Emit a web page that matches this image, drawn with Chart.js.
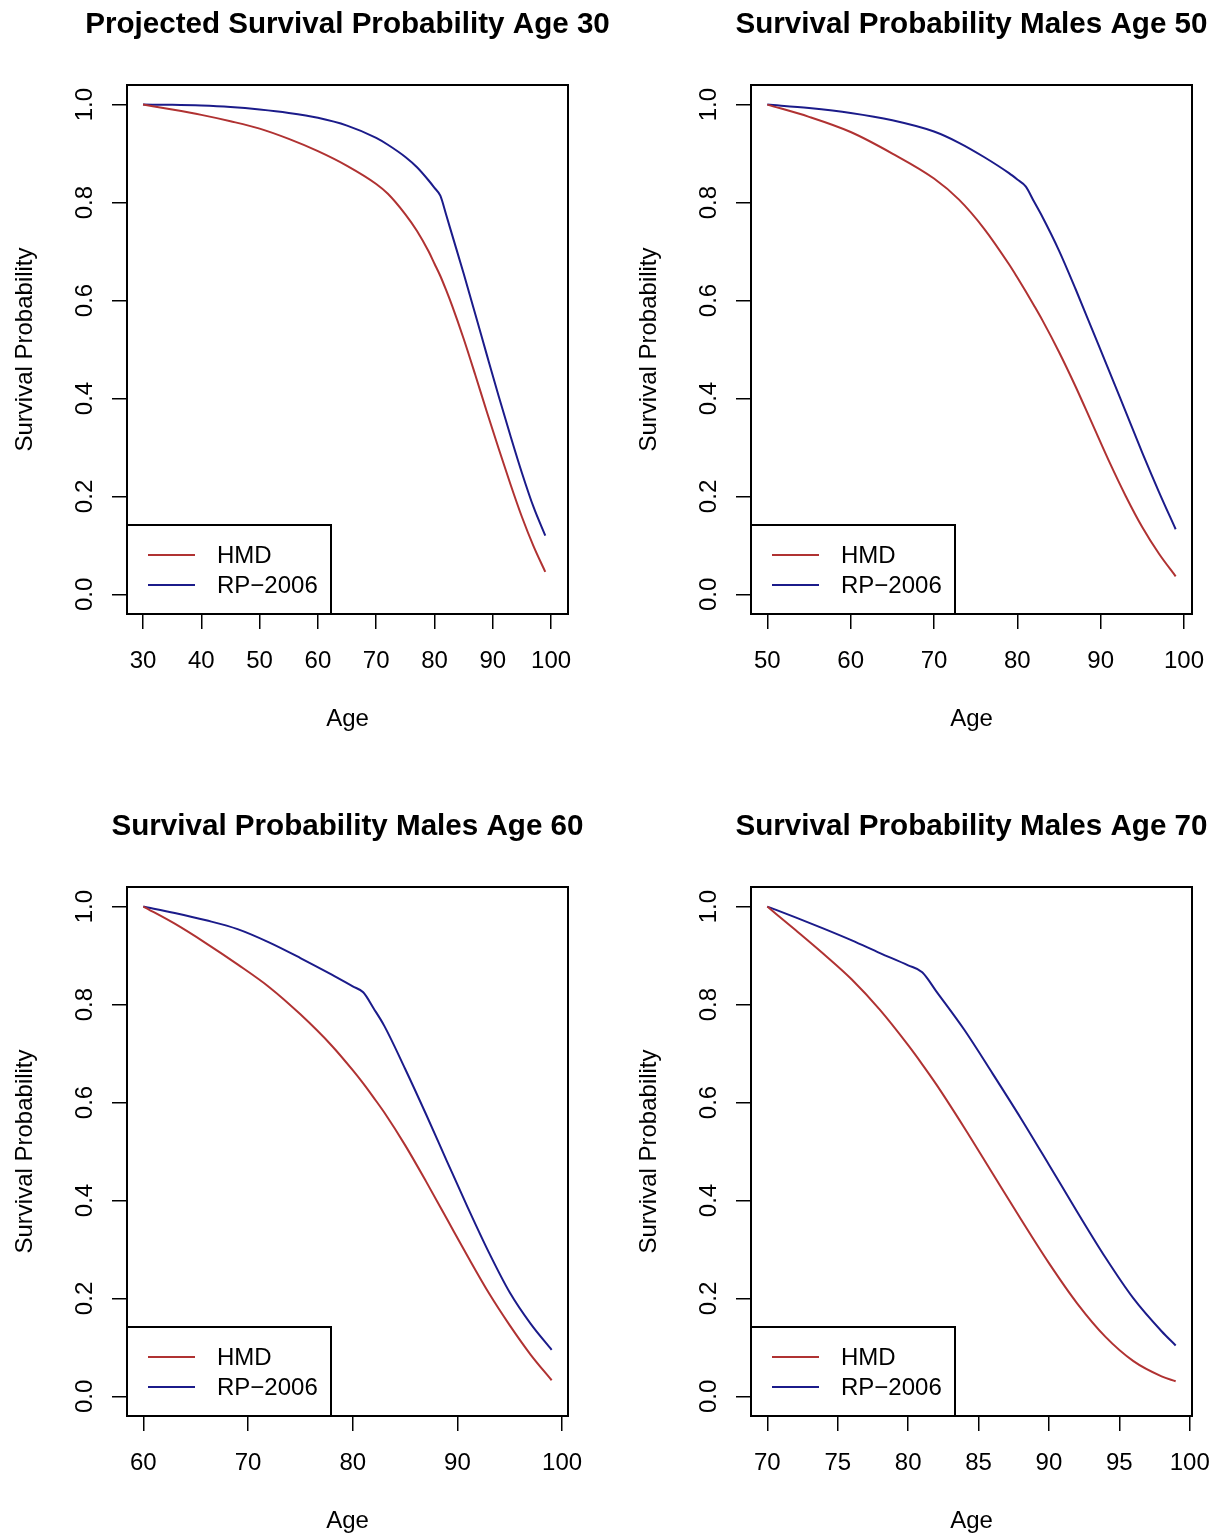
<!DOCTYPE html>
<html lang="en">
  <head>
    <meta charset="UTF-8" />
    <title>Survival Probability</title>
    <script src="https://cdn.jsdelivr.net/npm/chart.js"></script>
    <style>
      body { margin: 0; background: #fff; overflow: hidden; }
      .panel { position: absolute; }
    </style>
  </head>
  <body>
    <div class="panel" style="left: 0px; top: 0px; width: 624px; height: 735px"><canvas id="c30"></canvas></div>
    <div class="panel" style="left: 624px; top: 0px; width: 588px; height: 735px"><canvas id="c50"></canvas></div>
    <div class="panel" style="left: 0px; top: 802px; width: 624px; height: 735px"><canvas id="c60"></canvas></div>
    <div class="panel" style="left: 624px; top: 802px; width: 588px; height: 735px"><canvas id="c70"></canvas></div>
  </body>
  <script>
    // values
    const seriesNames = ["HMD", "RP\u22122006"];
    const yTicks = [0, 0.2, 0.4, 0.6, 0.8, 1.0];

    const ages30 = [30, 35, 40, 45, 50, 55, 60, 65, 70, 72, 75, 77, 79, 80, 81, 82, 83, 85, 87, 89, 91, 93, 95, 97, 99];
    const hmd30 = [1.0, 0.99, 0.979, 0.966, 0.951, 0.93, 0.905, 0.875, 0.838, 0.818, 0.776, 0.742, 0.7, 0.675, 0.65, 0.621, 0.59, 0.522, 0.448, 0.372, 0.298, 0.226, 0.158, 0.098, 0.046];
    const rp30 = [1.0, 0.9995, 0.998, 0.995, 0.99, 0.983, 0.973, 0.957, 0.932, 0.918, 0.893, 0.872, 0.845, 0.83, 0.814, 0.775, 0.735, 0.655, 0.572, 0.488, 0.405, 0.325, 0.248, 0.178, 0.12];
    const xTicks30 = [30, 40, 50, 60, 70, 80, 90, 100];

    const ages50 = [50, 55, 60, 65, 70, 73, 76, 79, 80, 81, 82, 83, 85, 87, 89, 91, 93, 95, 97, 99];
    const hmd50 = [1.0, 0.975, 0.944, 0.9, 0.849, 0.806, 0.747, 0.674, 0.647, 0.619, 0.59, 0.56, 0.495, 0.424, 0.348, 0.272, 0.201, 0.137, 0.083, 0.037];
    const rp50 = [1.0, 0.993, 0.983, 0.968, 0.945, 0.922, 0.893, 0.86, 0.847, 0.833, 0.802, 0.771, 0.702, 0.623, 0.54, 0.457, 0.373, 0.289, 0.209, 0.133];
    const xTicks50 = [50, 60, 70, 80, 90, 100];

    const ages60 = [60, 63, 66, 69, 72, 75, 78, 80, 81, 82, 83, 85, 87, 89, 91, 93, 95, 97, 99];
    const hmd60 = [1.0, 0.965, 0.925, 0.882, 0.836, 0.78, 0.716, 0.666, 0.639, 0.61, 0.58, 0.513, 0.439, 0.362, 0.285, 0.211, 0.145, 0.085, 0.033];
    const rp60 = [1.0, 0.987, 0.972, 0.954, 0.927, 0.895, 0.861, 0.837, 0.825, 0.792, 0.757, 0.669, 0.576, 0.48, 0.385, 0.294, 0.212, 0.148, 0.095];
    const xTicks60 = [60, 70, 80, 90, 100];

    const ages70 = [70, 72, 74, 76, 78, 80, 81, 82, 84, 86, 88, 90, 92, 94, 96, 98, 99];
    const hmd70 = [1.0, 0.952, 0.903, 0.851, 0.789, 0.717, 0.678, 0.637, 0.548, 0.455, 0.362, 0.272, 0.19, 0.122, 0.072, 0.041, 0.031];
    const rp70 = [1.0, 0.978, 0.955, 0.931, 0.905, 0.88, 0.866, 0.827, 0.748, 0.659, 0.568, 0.473, 0.377, 0.284, 0.2, 0.133, 0.104];
    const xTicks70 = [70, 75, 80, 85, 90, 95, 100];

    const fontFamily = '"Liberation Sans", Arial, sans-serif';
    Chart.defaults.font.family = fontFamily;
    Chart.defaults.color = "#000";

    // main title centred over the plot region (like R's main=)
    const rTitle = {
      id: "rTitle",
      afterDraw(chart, args, opts) {
        const { ctx, chartArea: a } = chart;
        ctx.save();
        ctx.font = "bold 29.6px " + fontFamily;
        ctx.fillStyle = "#000";
        ctx.textAlign = "center";
        ctx.textBaseline = "middle";
        ctx.fillText(opts.text, (a.left + a.right) / 2, 25);
        ctx.restore();
      },
    };

    // R style legend (bottom left) + box around plot region
    const rLegend = {
      id: "rLegend",
      afterDatasetsDraw(chart) {
        const { ctx, chartArea: a } = chart;
        const w = 204, h = 89;
        ctx.save();
        ctx.fillStyle = "#fff";
        ctx.fillRect(a.left, a.bottom - h, w, h);
        ctx.strokeStyle = "#000";
        ctx.lineWidth = 2;
        ctx.strokeRect(a.left, a.bottom - h, w, h);
        ctx.font = "24px " + fontFamily;
        ctx.textBaseline = "middle";
        chart.data.datasets.forEach((ds, i) => {
          const y = a.bottom - 59 + i * 30;
          ctx.strokeStyle = ds.borderColor;
          ctx.lineWidth = 2;
          ctx.beginPath();
          ctx.moveTo(a.left + 21, y);
          ctx.lineTo(a.left + 68, y);
          ctx.stroke();
          ctx.fillStyle = "#000";
          ctx.fillText(ds.label, a.left + 90, y + 1);
        });
        ctx.strokeStyle = "#000";
        ctx.lineWidth = 2;
        ctx.strokeRect(a.left, a.top, a.right - a.left, a.bottom - a.top);
        ctx.restore();
      },
    };

    function toPts(xs, ys) {
      return xs.map((x, i) => ({ x: x, y: ys[i] }));
    }

    function noPad(s) {
      s.paddingLeft = 0;
      s.paddingRight = 0;
      s.paddingTop = 0;
      s.paddingBottom = 0;
    }

    function makePanel(id, title, ages, hmd, rp, xTicks, xMin, xMax, padRight) {
      const tickGrid = { drawOnChartArea: false, drawTicks: true, tickLength: 15, color: "#000", lineWidth: 1.5 };
      return new Chart(document.getElementById(id), {
        type: "line",
        data: {
          datasets: [
            { label: seriesNames[0], data: toPts(ages, hmd), borderColor: "#B03232", borderWidth: 2 },
            { label: seriesNames[1], data: toPts(ages, rp), borderColor: "#1B1B8A", borderWidth: 2 },
          ],
        },
        options: {
          responsive: true,
          maintainAspectRatio: false,
          animation: false,
          layout: { padding: { left: 0, top: 85, right: padRight, bottom: 0 } },
          elements: { point: { radius: 0 }, line: { cubicInterpolationMode: "monotone" } },
          plugins: {
            legend: { display: false },
            tooltip: { enabled: false },
            title: { display: false },
            rTitle: { text: title },
          },
          scales: {
            x: {
              type: "linear",
              min: xMin,
              max: xMax,
              grid: tickGrid,
              border: { display: false },
              afterBuildTicks: (s) => { s.ticks = xTicks.map((v) => ({ value: v })); },
              afterFit: (s) => { s.height = 121; noPad(s); },
              ticks: { autoSkip: false, maxRotation: 0, font: { size: 24 }, padding: 18, callback: (v) => String(v) },
              title: { display: true, text: "Age", font: { size: 24 }, padding: { top: 0, bottom: 1.6 } },
            },
            y: {
              type: "linear",
              min: -0.04,
              max: 1.04,
              grid: tickGrid,
              border: { display: false },
              afterBuildTicks: (s) => { s.ticks = yTicks.map((v) => ({ value: v })); },
              afterFit: (s) => { s.width = 127; noPad(s); },
              ticks: { minRotation: 90, maxRotation: 90, crossAlign: "center", font: { size: 24 }, padding: 10.3, callback: (v) => v.toFixed(1) },
              title: { display: true, text: "Survival Probability", font: { size: 24 }, padding: { top: 10.6, bottom: 0 } },
            },
          },
        },
        plugins: [rTitle, rLegend],
      });
    }

    makePanel("c30", "Projected Survival Probability Age 30", ages30, hmd30, rp30, xTicks30, 27.25, 102.9, 56);
    makePanel("c50", "Survival Probability Males Age 50", ages50, hmd50, rp50, xTicks50, 48.04, 100.96, 20);
    makePanel("c60", "Survival Probability Males Age 60", ages60, hmd60, rp60, xTicks60, 58.44, 100.56, 56);
    makePanel("c70", "Survival Probability Males Age 70", ages70, hmd70, rp70, xTicks70, 68.84, 100.16, 20);
  </script>
</html>
